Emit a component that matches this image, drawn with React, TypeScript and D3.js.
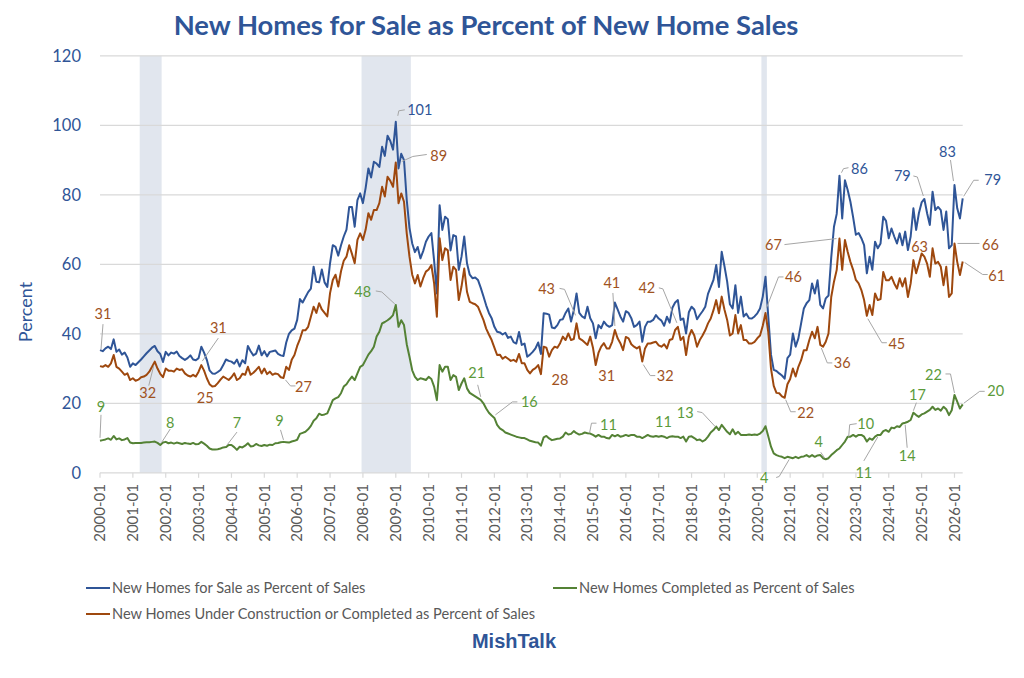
import * as d3 from 'd3'

// monthly values, first point = 2000-01
const firstYear = 2000

const forSaleValues: number[] = [
  35.3, 35.0, 35.8, 36.3, 35.6, 38.4, 34.8, 35.5, 34.0, 34.6, 33.2, 30.5, // 2000
  31.5, 31.0, 31.8, 32.6, 33.5, 34.4, 35.2, 36.0, 36.5, 35.0, 34.2, 31.9, // 2001
  34.8, 33.8, 34.6, 34.3, 34.9, 33.6, 33.0, 32.5, 33.0, 33.8, 32.6, 32.4, // 2002
  33.0, 36.3, 34.6, 32.5, 29.5, 28.6, 28.5, 29.0, 29.6, 31.0, 32.6, 32.2, // 2003
  32.0, 31.4, 32.6, 30.6, 32.4, 31.5, 36.5, 35.0, 33.8, 34.3, 36.6, 33.8, // 2004
  35.0, 33.5, 34.8, 35.0, 35.2, 34.2, 33.8, 33.6, 37.5, 40.0, 41.0, 41.5, // 2005
  44.0, 50.0, 49.0, 50.5, 52.0, 53.0, 59.3, 55.0, 54.8, 58.5, 54.8, 53.5, // 2006
  60.3, 65.5, 65.0, 62.5, 65.5, 68.0, 70.0, 76.5, 76.5, 70.8, 78.5, 80.4, // 2007
  77.6, 82.0, 87.6, 85.0, 89.5, 89.0, 88.0, 93.8, 91.2, 97.0, 95.5, 93.0, // 2008
  101.0, 87.6, 91.8, 90.0, 78.5, 70.5, 66.0, 63.5, 65.0, 61.7, 63.8, 66.5, // 2009
  68.0, 69.0, 61.0, 51.6, 77.0, 69.9, 73.7, 73.0, 64.0, 68.4, 68.0, 58.4, // 2010
  62.2, 68.0, 60.3, 57.0, 56.0, 56.2, 55.5, 53.3, 50.8, 48.2, 46.0, 44.5, // 2011
  42.0, 40.6, 40.4, 39.8, 40.3, 38.8, 39.2, 37.6, 37.2, 40.5, 36.8, 37.2, // 2012
  33.4, 34.0, 34.8, 35.8, 37.5, 34.2, 45.9, 45.8, 45.5, 41.8, 41.6, 42.5, // 2013
  44.0, 44.2, 46.0, 47.3, 43.5, 46.8, 51.6, 46.0, 45.0, 44.5, 47.8, 44.5, // 2014
  43.0, 38.7, 42.5, 41.6, 43.5, 42.5, 42.0, 42.5, 49.0, 47.0, 45.0, 43.5, // 2015
  46.5, 46.0, 44.5, 42.0, 42.5, 43.5, 37.7, 42.0, 43.5, 43.5, 44.0, 45.4, // 2016
  44.4, 43.8, 42.3, 44.9, 43.2, 47.5, 49.0, 49.7, 44.0, 44.4, 40.1, 46.2, // 2017
  47.8, 47.0, 44.2, 45.4, 46.5, 47.8, 51.5, 53.5, 55.5, 59.8, 53.5, 63.6, // 2018
  59.5, 55.0, 48.5, 47.3, 54.0, 46.0, 50.7, 45.0, 45.8, 44.5, 44.4, 45.0, // 2019
  45.9, 47.3, 50.7, 56.4, 45.0, 34.0, 29.6, 29.3, 28.6, 28.0, 27.1, 33.0, // 2020
  34.0, 40.1, 36.3, 38.7, 43.0, 47.3, 48.8, 49.7, 54.5, 51.6, 55.4, 48.3, // 2021
  47.3, 50.2, 51.0, 62.0, 70.8, 74.5, 85.5, 73.2, 84.2, 81.4, 78.0, 73.5, // 2022
  68.5, 69.0, 67.5, 65.5, 57.4, 62.2, 58.4, 66.5, 64.6, 66.0, 73.7, 72.5, // 2023
  67.5, 70.3, 68.0, 66.0, 68.9, 65.5, 69.4, 64.1, 68.0, 76.1, 69.9, 74.7, // 2024
  77.8, 78.8, 74.7, 71.3, 80.9, 75.6, 76.5, 75.6, 69.9, 75.2, 64.6, 65.5, // 2025
  82.8, 76.1, 73.2, 79.0, // 2026
]

const underConstructionValues: number[] = [
  30.7, 30.5, 31.0, 30.5, 31.5, 33.9, 30.5, 30.0, 29.1, 28.2, 28.6, 26.7, // 2000
  27.2, 26.5, 26.8, 27.5, 27.7, 28.2, 29.1, 30.5, 32.0, 30.0, 28.5, 27.5, // 2001
  30.0, 29.4, 29.4, 29.1, 30.0, 29.6, 29.8, 28.6, 28.0, 27.7, 28.2, 27.7, // 2002
  29.1, 31.0, 29.4, 27.2, 25.5, 24.8, 25.0, 25.8, 26.8, 27.7, 27.2, 26.7, // 2003
  27.5, 28.6, 26.7, 27.2, 28.5, 28.2, 30.5, 28.2, 28.8, 29.6, 30.5, 28.6, // 2004
  30.0, 28.4, 29.1, 28.2, 28.6, 28.4, 27.5, 27.3, 30.5, 29.6, 32.5, 33.9, // 2005
  36.5, 38.5, 41.0, 41.0, 42.0, 44.9, 47.8, 46.0, 48.8, 47.0, 46.0, 45.0, // 2006
  51.7, 55.5, 57.0, 53.6, 58.0, 61.0, 62.2, 65.5, 63.0, 60.3, 67.0, 68.9, // 2007
  67.0, 70.0, 74.7, 72.8, 75.6, 75.6, 77.6, 82.3, 79.5, 85.2, 84.0, 82.3, // 2008
  89.3, 77.6, 80.4, 78.0, 68.9, 62.2, 57.0, 54.5, 56.9, 53.6, 56.0, 57.9, // 2009
  58.5, 59.8, 54.5, 44.9, 67.5, 61.2, 64.6, 64.0, 55.5, 59.3, 58.4, 49.7, // 2010
  53.6, 58.8, 52.1, 49.2, 48.8, 48.5, 47.8, 45.9, 44.0, 41.5, 39.8, 38.2, // 2011
  36.0, 33.9, 34.0, 32.8, 33.4, 32.8, 32.2, 32.5, 32.0, 34.2, 31.5, 31.5, // 2012
  29.6, 28.6, 29.6, 30.1, 31.0, 28.4, 36.3, 36.0, 33.4, 35.3, 36.3, 36.0, // 2013
  37.3, 39.2, 38.2, 40.1, 38.2, 38.5, 43.0, 38.7, 38.2, 37.5, 36.8, 39.2, // 2014
  36.0, 31.0, 34.5, 36.3, 37.3, 35.8, 35.8, 37.7, 41.1, 38.7, 37.3, 35.3, // 2015
  39.1, 38.7, 37.0, 36.3, 35.8, 36.3, 32.0, 35.8, 37.2, 37.2, 37.5, 37.7, // 2016
  36.7, 36.3, 37.0, 35.8, 38.2, 38.5, 41.1, 42.0, 38.2, 39.1, 33.9, 39.1, // 2017
  41.1, 39.5, 36.3, 38.2, 39.5, 41.0, 43.0, 44.4, 46.8, 49.7, 45.9, 50.7, // 2018
  47.0, 44.0, 39.5, 40.1, 45.4, 40.1, 42.5, 38.2, 38.2, 37.2, 37.2, 37.7, // 2019
  38.7, 39.5, 42.3, 46.0, 40.5, 30.0, 25.0, 23.0, 22.9, 22.0, 21.6, 25.5, // 2020
  27.0, 30.0, 27.7, 30.5, 32.4, 35.3, 35.3, 38.2, 40.6, 38.7, 42.0, 36.8, // 2021
  36.3, 37.7, 40.1, 50.6, 55.0, 58.4, 67.4, 58.4, 67.0, 63.6, 60.7, 58.4, // 2022
  55.5, 54.5, 52.6, 49.7, 45.2, 48.3, 45.4, 51.6, 49.7, 50.0, 57.8, 55.4, // 2023
  55.4, 56.4, 54.5, 53.0, 56.0, 53.6, 56.0, 50.6, 54.5, 61.2, 57.4, 60.2, // 2024
  63.1, 62.2, 60.2, 56.4, 64.6, 60.2, 60.7, 59.3, 54.0, 59.3, 50.6, 51.6, // 2025
  66.0, 60.7, 56.9, 60.8, // 2026
]

const completedValues: number[] = [
  9.2, 9.4, 9.6, 9.9, 9.5, 10.6, 9.6, 9.9, 9.4, 9.6, 10.0, 8.7, // 2000
  8.5, 8.6, 8.6, 8.6, 8.7, 8.8, 8.8, 8.9, 9.0, 8.6, 8.0, 8.7, // 2001
  8.9, 8.5, 8.7, 8.4, 8.7, 8.5, 8.3, 8.6, 8.4, 8.3, 8.6, 8.2, // 2002
  8.3, 8.9, 8.4, 7.8, 7.0, 6.7, 6.7, 6.8, 7.0, 7.3, 7.4, 8.0, // 2003
  8.0, 7.4, 6.6, 7.5, 7.3, 7.8, 8.5, 7.6, 7.7, 8.3, 7.9, 7.7, // 2004
  8.0, 7.8, 8.1, 8.0, 8.5, 8.6, 8.8, 8.9, 8.8, 8.7, 9.0, 9.2, // 2005
  9.5, 11.2, 11.5, 11.8, 12.5, 13.5, 15.0, 15.7, 17.0, 16.6, 16.8, 17.1, // 2006
  19.0, 20.9, 21.4, 21.8, 22.9, 24.8, 25.5, 26.7, 27.7, 26.7, 28.6, 30.5, // 2007
  31.0, 32.5, 34.0, 35.0, 36.3, 39.2, 40.6, 43.0, 43.4, 43.9, 44.5, 45.4, // 2008
  48.3, 42.0, 43.9, 42.5, 37.0, 33.4, 29.5, 27.6, 26.7, 27.2, 27.0, 26.7, // 2009
  27.6, 27.0, 24.8, 20.9, 31.0, 29.1, 30.5, 30.5, 26.7, 28.1, 27.6, 23.8, // 2010
  25.7, 27.2, 24.3, 23.0, 22.5, 22.0, 21.5, 21.0, 20.0, 18.5, 17.3, 16.5, // 2011
  15.8, 13.8, 12.8, 12.3, 11.6, 11.3, 11.0, 10.7, 10.4, 10.2, 10.0, 10.0, // 2012
  9.6, 9.2, 9.0, 8.8, 8.7, 7.8, 10.2, 10.6, 9.9, 9.4, 9.6, 9.8, // 2013
  9.9, 10.4, 11.6, 11.0, 11.2, 12.0, 11.4, 11.0, 11.2, 11.6, 11.4, 11.3, // 2014
  10.9, 10.4, 10.9, 10.4, 10.4, 10.0, 9.9, 10.9, 10.5, 10.9, 10.4, 10.6, // 2015
  10.9, 10.6, 10.9, 10.9, 10.4, 10.4, 10.0, 10.4, 10.9, 10.5, 10.4, 10.6, // 2016
  10.4, 10.6, 10.4, 10.0, 10.4, 10.5, 10.4, 10.4, 10.0, 10.4, 9.0, 10.4, // 2017
  10.5, 10.0, 9.4, 9.6, 9.0, 9.5, 10.4, 11.6, 12.3, 13.3, 12.3, 13.8, // 2018
  12.8, 11.8, 11.1, 12.5, 11.1, 11.8, 10.9, 10.9, 10.9, 11.0, 10.9, 11.0, // 2019
  10.9, 11.3, 12.0, 13.4, 10.5, 7.5, 5.6, 5.1, 4.8, 4.6, 4.2, 4.6, // 2020
  4.4, 4.2, 4.6, 4.2, 4.6, 4.7, 5.1, 4.6, 5.1, 4.6, 5.0, 5.1, // 2021
  4.2, 3.9, 4.2, 5.1, 5.8, 6.5, 7.0, 8.0, 9.0, 10.4, 10.4, 10.9, // 2022
  10.4, 10.9, 10.9, 10.4, 9.0, 9.9, 9.5, 10.4, 10.9, 10.9, 12.0, 12.3, // 2023
  11.8, 13.0, 12.8, 13.4, 13.2, 14.2, 14.4, 14.7, 15.2, 17.3, 16.6, 16.1, // 2024
  16.8, 17.1, 17.6, 18.1, 19.0, 18.1, 18.5, 17.9, 19.0, 18.3, 16.6, 18.0, // 2025
  22.4, 20.5, 18.5, 19.7, // 2026
]

const yTicks = [0, 20, 40, 60, 80, 100, 120]

const xTickLabels = [
  '2000-01', '2001-01', '2002-01', '2003-01', '2004-01', '2005-01', '2006-01',
  '2007-01', '2008-01', '2009-01', '2010-01', '2011-01', '2012-01', '2013-01',
  '2014-01', '2015-01', '2016-01', '2017-01', '2018-01', '2019-01', '2020-01',
  '2021-01', '2022-01', '2023-01', '2024-01', '2025-01', '2026-01',
]

const recessions = [
  ['2001-03', '2001-11'],
  ['2007-12', '2009-06'],
  ['2020-02', '2020-04'],
]

type Key = 'sale' | 'uc' | 'done'
type Note = { s: Key; m: string; t: string; dx: number; dy: number; leader?: number[][] }

// data labels: month + text, offsets are label placement in px
const notes: Note[] = [
  { s: 'sale', m: '2009-01', t: '101', dx: 24, dy: -12, leader: [[2, -6], [3, -11], [9, -12]] },
  { s: 'sale', m: '2022-07', t: '86', dx: 20, dy: -7, leader: [[2, -3], [4, -7], [9, -8]] },
  { s: 'sale', m: '2025-02', t: '79', dx: -22, dy: -23, leader: [[-1, -3], [-7, -22], [-11, -23]] },
  { s: 'sale', m: '2026-01', t: '83', dx: -7, dy: -33, leader: [[-1, -4], [-4, -25]] },
  { s: 'sale', m: '2026-04', t: '79', dx: 30, dy: -18, leader: [[1, -2], [11, -18], [16, -18]] },

  { s: 'uc', m: '2000-01', t: '31', dx: 3, dy: -52, leader: [[1, -17], [3, -42]] },
  { s: 'uc', m: '2001-09', t: '32', dx: -7, dy: 31, leader: [[-1, 4], [-6, 24]] },
  { s: 'uc', m: '2003-02', t: '31', dx: 17, dy: -37, leader: [[1, -4], [17, -27]] },
  { s: 'uc', m: '2003-06', t: '25', dx: -7, dy: 11 },
  { s: 'uc', m: '2005-08', t: '27', dx: 20, dy: 9, leader: [[2, 2], [7, 8], [12, 8]] },
  { s: 'uc', m: '2009-01', t: '89', dx: 43, dy: -7, leader: [[6, -1], [17, -6], [31, -8]] },
  { s: 'uc', m: '2014-07', t: '43', dx: -30, dy: -34, leader: [[-1, -8], [-12, -34], [-17, -35]] },
  { s: 'uc', m: '2013-06', t: '28', dx: 19, dy: 6 },
  { s: 'uc', m: '2015-09', t: '41', dx: -3, dy: -47, leader: [[0, -4], [-2, -37]] },
  { s: 'uc', m: '2015-02', t: '31', dx: 11, dy: 11 },
  { s: 'uc', m: '2017-08', t: '42', dx: -31, dy: -39, leader: [[-1, -4], [-15, -38], [-19, -39]] },
  { s: 'uc', m: '2016-07', t: '32', dx: 23, dy: 14, leader: [[1, 3], [8, 14], [13, 14]] },
  { s: 'uc', m: '2020-04', t: '46', dx: 28, dy: -36, leader: [[1, -5], [13, -36], [18, -36]] },
  { s: 'uc', m: '2020-11', t: '22', dx: 21, dy: 15, leader: [[1, 2], [6, 14], [11, 14]] },
  { s: 'uc', m: '2022-07', t: '67', dx: -66, dy: 6, leader: [[-3, 0], [-55, 6]] },
  { s: 'uc', m: '2021-12', t: '36', dx: 22, dy: 18, leader: [[1, 3], [7, 18], [12, 18]] },
  { s: 'uc', m: '2023-05', t: '45', dx: 30, dy: 28, leader: [[1, 3], [15, 27], [20, 27]] },
  { s: 'uc', m: '2025-01', t: '63', dx: -2, dy: -7 },
  { s: 'uc', m: '2026-01', t: '66', dx: 36, dy: 1, leader: [[3, 0], [25, 0]] },
  { s: 'uc', m: '2026-04', t: '61', dx: 34, dy: 14, leader: [[2, 1], [20, 13], [25, 13]] },

  { s: 'done', m: '2000-01', t: '9', dx: 1, dy: -34, leader: [[0, -3], [1, -26]] },
  { s: 'done', m: '2001-11', t: '8', dx: 10, dy: -22, leader: [[1, -2], [10, -16]] },
  { s: 'done', m: '2003-11', t: '7', dx: 11, dy: -24, leader: [[1, -2], [11, -15]] },
  { s: 'done', m: '2005-08', t: '9', dx: -4, dy: -21, leader: [[0, -2], [-3, -12]] },
  { s: 'done', m: '2009-01', t: '48', dx: -33, dy: -13, leader: [[-1, -1], [-14, -13], [-20, -14]] },
  { s: 'done', m: '2011-08', t: '21', dx: -4, dy: -27, leader: [[0, -3], [-3, -15]] },
  { s: 'done', m: '2012-01', t: '16', dx: 35, dy: -16, leader: [[1, -3], [18, -16], [23, -16]] },
  { s: 'done', m: '2014-11', t: '11', dx: 21, dy: -8, leader: [[2, 0], [4, -10], [9, -10]] },
  { s: 'done', m: '2017-02', t: '11', dx: 2, dy: -14 },
  { s: 'done', m: '2018-10', t: '13', dx: -31, dy: -14, leader: [[-1, 0], [-14, -14], [-19, -15]] },
  { s: 'done', m: '2021-01', t: '4', dx: -26, dy: 20, leader: [[-1, 2], [-11, 19], [-14, 20]] },
  { s: 'done', m: '2022-02', t: '4', dx: -7, dy: -17, leader: [[-1, -1], [-5, -7]] },
  { s: 'done', m: '2022-10', t: '10', dx: 18, dy: -13, leader: [[1, 0], [2, -12], [9, -13]] },
  { s: 'done', m: '2023-09', t: '11', dx: -14, dy: 38, leader: [[0, 2], [-14, 26]] },
  { s: 'done', m: '2024-07', t: '14', dx: 2, dy: 33, leader: [[0, 2], [2, 25]] },
  { s: 'done', m: '2024-10', t: '17', dx: 4, dy: -18, leader: [[0, -2], [3, -10]] },
  { s: 'done', m: '2026-01', t: '22', dx: -21, dy: -20, leader: [[0, -2], [-4, -21], [-9, -21]] },
  { s: 'done', m: '2026-04', t: '20', dx: 33, dy: -13, leader: [[1, -1], [17, -13], [22, -13]] },
]

const monthIndex = (m: string) => {
  const [yy, mm] = m.split('-').map(Number)
  return (yy - firstYear) * 12 + (mm - 1)
}

const BLUE = '#2F5597'
const FONT = 'Lato, "Open Sans", sans-serif'

export default function App() {
  const width = 1024
  const height = 678
  const n = forSaleValues.length

  const x = d3.scaleLinear().domain([0, n - 1]).range([100, 962.7])
  const y = d3.scaleLinear().domain([0, 120]).range([472.8, 55.8])
  const line = d3
    .line<number>()
    .x((_d, i) => x(i))
    .y((d) => y(d))

  const series = [
    { key: 'sale' as Key, name: 'New Homes for Sale as Percent of Sales', values: forSaleValues, color: '#2F5597', label: '#2F5597' },
    { key: 'done' as Key, name: 'New Homes Completed as Percent of Sales', values: completedValues, color: '#548235', label: '#5B9A3A' },
    { key: 'uc' as Key, name: 'New Homes Under Construction or Completed as Percent of Sales', values: underConstructionValues, color: '#9E480E', label: '#A0521E' },
  ]
  const byKey: Record<string, (typeof series)[number]> = {}
  series.forEach((s) => (byKey[s.key] = s))

  const [x0, x1] = x.range()
  const legendRows = [
    { s: byKey.sale, lx: 86, ly: 588 },
    { s: byKey.done, lx: 553, ly: 588 },
    { s: byKey.uc, lx: 86, ly: 614 },
  ]

  return (
    <svg width={width} height={height} style={{ position: 'absolute', left: 0, top: 0, background: '#fff' }} fontFamily={FONT}>
      <rect width={width} height={height} fill="#fff" />

      {/* recession bands */}
      {recessions.map(([a, b]) => (
        <rect
          key={a}
          x={x(monthIndex(a) + 0.5)}
          y={y(120)}
          width={x(monthIndex(b) + 0.5) - x(monthIndex(a) + 0.5)}
          height={y(0) - y(120)}
          fill="#E1E6EE"
        />
      ))}

      {/* gridlines */}
      {yTicks.map((t) => (
        <line key={t} x1={x0} x2={x1} y1={y(t)} y2={y(t)} stroke="#D9D9D9" strokeWidth={1.2} />
      ))}
      {yTicks.map((t) => (
        <text key={'yl' + t} x={81} y={y(t)} dy="0.35em" textAnchor="end" fill={BLUE} fontSize={16.5}>
          {t}
        </text>
      ))}
      <text transform={`translate(26,312) rotate(-90)`} textAnchor="middle" dy="0.35em" fill={BLUE} fontSize={18}>
        Percent
      </text>

      {/* x axis ticks and labels */}
      {xTickLabels.map((lab) => {
        const xx = x(monthIndex(lab))
        return (
          <g key={lab}>
            <line x1={xx} x2={xx} y1={y(0)} y2={y(0) + 5} stroke="#D9D9D9" strokeWidth={1.2} />
            <text transform={`translate(${xx},484) rotate(-90)`} textAnchor="end" dy="0.35em" fill="#595959" fontSize={15}>
              {lab}
            </text>
          </g>
        )
      })}

      {/* series lines */}
      {series.map((s) => (
        <path key={s.key} d={line(s.values) || ''} fill="none" stroke={s.color} strokeWidth={2} strokeLinejoin="round" />
      ))}

      {/* data labels */}
      {notes.map((nt, k) => {
        const s = byKey[nt.s]
        const i = monthIndex(nt.m)
        const px = x(i)
        const py = y(s.values[i])
        return (
          <g key={k}>
            {nt.leader && (
              <polyline
                points={nt.leader.map(([a, b]) => `${px + a},${py + b}`).join(' ')}
                fill="none"
                stroke="#A6A6A6"
                strokeWidth={1}
              />
            )}
            <text x={px + nt.dx} y={py + nt.dy} dy="0.35em" textAnchor="middle" fill={s.label} fontSize={14.5}>
              {nt.t}
            </text>
          </g>
        )
      })}

      {/* title */}
      <text x={486} y={35} textAnchor="middle" fill={BLUE} fontSize={27.4} fontWeight={700}>
        New Homes for Sale as Percent of New Home Sales
      </text>

      {/* legend */}
      {legendRows.map(({ s, lx, ly }) => (
        <g key={s.key}>
          <line x1={lx} x2={lx + 24} y1={ly} y2={ly} stroke={s.color} strokeWidth={2} />
          <text x={lx + 26} y={ly} dy="0.35em" fill="#595959" fontSize={14.6}>
            {s.name}
          </text>
        </g>
      ))}

      <text x={514} y={641} dy="0.35em" textAnchor="middle" fill={BLUE} fontSize={20} fontWeight={700} fontFamily='"Liberation Sans", Arial, sans-serif'>
        MishTalk
      </text>
    </svg>
  )
}
